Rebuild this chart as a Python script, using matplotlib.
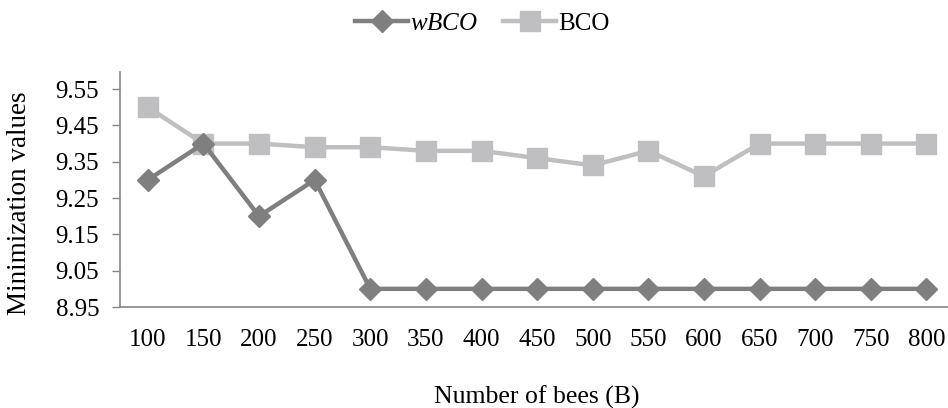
import matplotlib
matplotlib.use("Agg")
import matplotlib.pyplot as plt

categories = ["100", "150", "200", "250", "300", "350", "400", "450", "500",
              "550", "600", "650", "700", "750", "800"]
wbco = [9.30, 9.40, 9.20, 9.30, 9.00, 9.00, 9.00, 9.00, 9.00, 9.00, 9.00, 9.00, 9.00, 9.00, 9.00]
bco = [9.50, 9.40, 9.40, 9.39, 9.39, 9.38, 9.38, 9.36, 9.34, 9.38, 9.31, 9.40, 9.40, 9.40, 9.40]
yticks = [8.95, 9.05, 9.15, 9.25, 9.35, 9.45, 9.55]

plt.rcParams['font.family'] = ['Liberation Serif', 'DejaVu Serif']
plt.rcParams['mathtext.fontset'] = 'custom'
plt.rcParams['mathtext.rm'] = 'Liberation Serif'
plt.rcParams['mathtext.it'] = 'Liberation Serif:italic'
fig = plt.figure(figsize=(9.48, 4.08), dpi=100)
ax = fig.add_axes([0.1266, 0.2475, 0.88, 0.576])

x = list(range(len(categories)))
dark = '#7f7f80'
light = '#bfbfc1'
ax.plot(x, wbco, color=dark, lw=3.2, marker='D', markersize=11, label='wBCO', zorder=3)
ax.plot(x, bco, color=light, lw=3.2, marker='s', markersize=14, label='BCO', zorder=2)

ax.set_xlim(-0.5, len(categories) - 0.5)
ax.set_ylim(8.95, 9.597)
ax.set_yticks(yticks)
ax.set_yticklabels([f"{v:.2f}" for v in yticks])
ax.set_xticks(x)
ax.set_xticklabels(categories)
ax.tick_params(axis='x', length=0, pad=16, labelsize=18)
ax.tick_params(axis='y', length=6, width=1, color='#868686', pad=9, labelsize=18)
for s in ['top', 'right']:
    ax.spines[s].set_visible(False)
for s in ['left', 'bottom']:
    ax.spines[s].set_color('#868686')
    ax.spines[s].set_linewidth(1.2)

ax.set_xlabel("Number of bees (B)", fontsize=18.5, labelpad=25)
ax.set_ylabel("Minimization values", fontsize=19.5)
ax.yaxis.set_label_coords(-0.105, 0.443)

h, l = ax.get_legend_handles_labels()
leg = fig.legend(h, ['$\\it{wBCO}$', 'BCO'], loc='upper center', bbox_to_anchor=(0.509, 1.025),
                 ncol=2, frameon=False, fontsize=18, handlelength=2.1, columnspacing=1.0,
                 handletextpad=0.1)
fig.savefig("out.png", dpi=100)
